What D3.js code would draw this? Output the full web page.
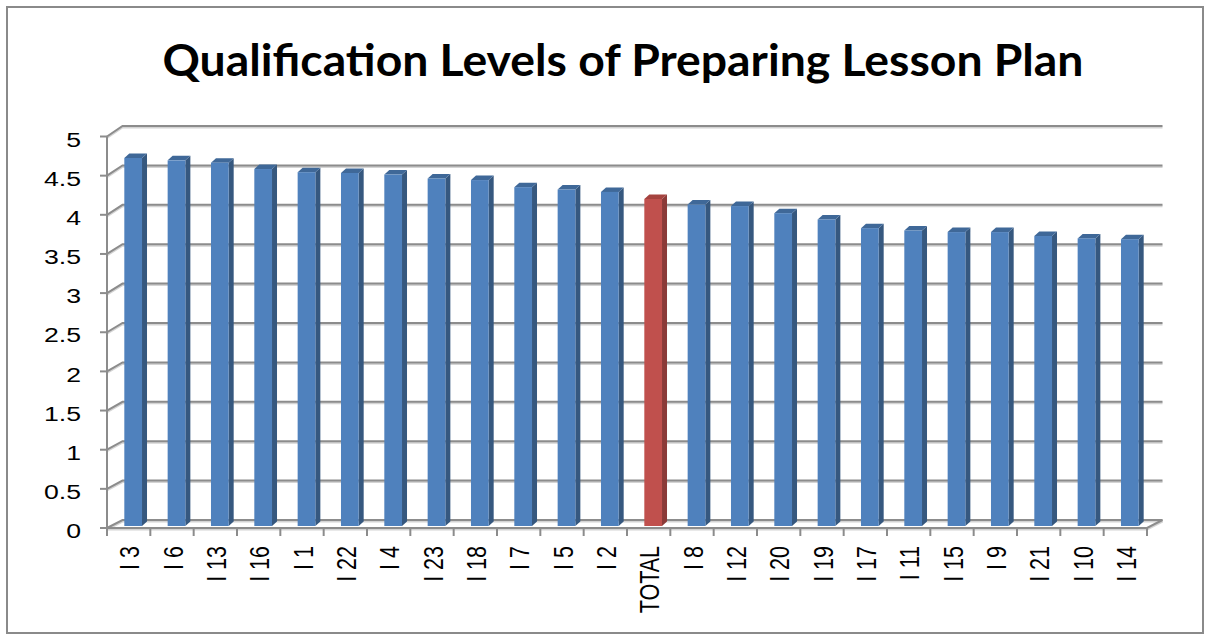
<!DOCTYPE html>
<html>
<head>
<meta charset="utf-8">
<script src="https://cdn.jsdelivr.net/npm/d3@7"></script>
<style>
  body { margin: 0; background: #fff; }
  text { font-family: "Liberation Sans", Arial, sans-serif; fill: #000; }
</style>
</head>
<body>
<script>
// data
var categories = ["I 3", "I 6", "I 13", "I 16", "I 1", "I 22", "I 4", "I 23", "I 18", "I 7", "I 5", "I 2",
                  "TOTAL", "I 8", "I 12", "I 20", "I 19", "I 17", "I 11", "I 15", "I 9", "I 21", "I 10", "I 14"];
var values = [4.67, 4.64, 4.61, 4.53, 4.49, 4.48, 4.46, 4.41, 4.39, 4.30, 4.27, 4.24,
              4.15, 4.08, 4.06, 3.97, 3.89, 3.78, 3.75, 3.73, 3.73, 3.68, 3.65, 3.64];
var yTicks = [0, 0.5, 1, 1.5, 2, 2.5, 3, 3.5, 4, 4.5, 5];
var title = "Qualification Levels of Preparing Lesson Plan";

var W = 1210, H = 635,
    stretch = 1.3,       // picture is wider than tall, text too
    depthX = 15.5,
    barDX = 5, barDY = 4.5;

var svg = d3.select("body").append("svg").attr("width", W).attr("height", H);

// outer frame
svg.append("rect")
    .attr("x", 7).attr("y", 7).attr("width", 1196).attr("height", 626)
    .attr("fill", "#fff").attr("stroke", "#8a8a8a").attr("stroke-width", 2);

svg.append("text")
    .attr("x", 623).attr("y", 76)
    .attr("text-anchor", "middle")
    .attr("textLength", 921).attr("lengthAdjust", "spacingAndGlyphs")
    .style("font-family", "Lato, 'Open Sans', sans-serif")
    .style("font-weight", "bold").style("font-size", "44px")
    .text(title);

var x = d3.scaleBand().domain(categories).range([107, 1147]);
var yFront = d3.scaleLinear().domain([0, 5]).range([528, 136.5]);
var yBack = d3.scaleLinear().domain([0, 5]).range([520, 126]);
var yBar = d3.scaleLinear().domain([0, 5]).range([526, 132]);
var bw = x.bandwidth(), barW = 17.7;

// wall gridlines
var grid = svg.append("g");
yTicks.forEach(function(v) {
  var path = "M107," + yFront(v) + "L" + (107 + depthX) + "," + yBack(v) + "L" + (1147 + depthX) + "," + yBack(v);
  grid.append("path").attr("d", path).attr("fill", "none")
      .attr("stroke", "#d4d4d4").attr("stroke-width", 2).attr("transform", "translate(0,1.5)");
  grid.append("path").attr("d", path).attr("fill", "none")
      .attr("stroke", "#8c8c8c").attr("stroke-width", 2);
});

// floor edges
var floorPath = "M107," + yFront(0) + "L1147," + yFront(0) + "L" + (1147 + depthX) + "," + yBack(0);
grid.append("path").attr("d", floorPath)
    .attr("fill", "none").attr("stroke", "#d4d4d4").attr("stroke-width", 2).attr("transform", "translate(0,1.5)");
grid.append("path").attr("d", floorPath)
    .attr("fill", "none").attr("stroke", "#8c8c8c").attr("stroke-width", 2);

// y axis line and ticks
grid.append("line").attr("x1", 107).attr("x2", 107)
    .attr("y1", yFront(0)).attr("y2", yFront(5))
    .attr("stroke", "#8c8c8c").attr("stroke-width", 2);
yTicks.forEach(function(v) {
  grid.append("line").attr("x1", 100).attr("x2", 107)
      .attr("y1", yFront(v)).attr("y2", yFront(v))
      .attr("stroke", "#8c8c8c").attr("stroke-width", 2);
  svg.append("text")
      .attr("transform", "translate(81," + (yFront(v) + 3) + ") scale(" + stretch + ",1)")
      .attr("text-anchor", "end").attr("dy", "0.35em")
      .style("font-size", "20.5px")
      .text(v);
});

// x ticks
categories.concat([null]).forEach(function(c) {
  var xx = c === null ? 1147 : x(c);
  grid.append("line").attr("x1", xx).attr("x2", xx)
      .attr("y1", yFront(0)).attr("y2", yFront(0) + 8)
      .attr("stroke", "#8c8c8c").attr("stroke-width", 2);
});

// bars
var bars = svg.append("g").selectAll("g").data(categories).join("g");
function fx(c) { return x(c) + bw / 2 + 4.5 - barW / 2; }
function colors(c) {
  return c === "TOTAL" ? ["#C0504D", "#8B3A38", "#A5433F"] : ["#4F81BD", "#36587F", "#3F6898"];
}
bars.each(function(c, i) {
  var g = d3.select(this);
  var x0 = fx(c), x1 = x0 + barW, yt = yBar(values[i]), yb = yBar(0);
  var col = colors(c);
  g.append("path")
      .attr("d", "M" + x1 + "," + yt + "L" + (x1 + barDX) + "," + (yt - barDY) +
                 "L" + (x1 + barDX) + "," + (yb - barDY) + "L" + x1 + "," + yb + "Z")
      .attr("fill", col[1]);
  g.append("path")
      .attr("d", "M" + x0 + "," + yt + "L" + x1 + "," + yt +
                 "L" + (x1 + barDX) + "," + (yt - barDY) + "L" + (x0 + barDX) + "," + (yt - barDY) + "Z")
      .attr("fill", col[2]);
  g.append("rect")
      .attr("x", x0).attr("y", yt).attr("width", barW).attr("height", yb - yt)
      .attr("fill", col[0]);
});

// x labels
svg.append("g").selectAll("text").data(categories).join("text")
    .attr("transform", function(c) {
      return "translate(" + (x(c) + bw / 2 + 1) + ",546) scale(" + stretch + ",1) rotate(-90)";
    })
    .attr("text-anchor", "end").attr("dy", "0.35em")
    .style("font-size", "21.5px")
    .text(function(c) { return c; });
</script>
</body>
</html>
